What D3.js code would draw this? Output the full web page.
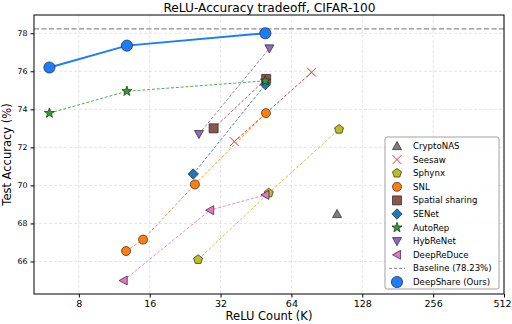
<!DOCTYPE html>
<html>
<head>
<meta charset="utf-8">
<script src="https://cdn.jsdelivr.net/npm/d3@7"></script>
<style>
  body { margin: 0; background: #fff; }
  svg { font-family: "DejaVu Sans", sans-serif; }
</style>
</head>
<body>
<div id="chart"></div>
<script>
// ---- data (ReLU count in K, test accuracy %) ----
const cryptoNAS  = [[100, 68.5]];
const seesaw     = [[36.6, 72.3], [78, 75.95]];
const sphynx     = [[25.7, 66.1], [51.3, 69.6], [102, 72.95]];
const snl        = [[12.7, 66.55], [15, 67.15], [24.9, 70.05], [49.9, 73.8]];
const spatial    = [[29.9, 73.0], [50, 75.6]];
const senet      = [[24.5, 70.6], [49.6, 75.3]];
const autorep    = [[6, 73.8], [12.8, 74.95], [49.6, 75.5]];
const hybrenet   = [[25.9, 72.7], [51.6, 77.2]];
const deepreduce = [[12.4, 65.0], [28.9, 68.7], [49.6, 69.5]];
const deepshare  = [[6, 76.2], [12.8, 77.35], [49.6, 78.0]];
const baseline   = 78.23;

const xTicks = [8, 16, 32, 64, 128, 256, 512];
const yTicks = [66, 68, 70, 72, 74, 76, 78];

const width = 512, height = 324;
const margin = {top: 15, right: 8, bottom: 30, left: 34};

// series config: name, data, colour, marker
const series = [
  {name: "CryptoNAS", data: cryptoNAS, color: "#7f7f7f", marker: "triUp"},
  {name: "Seesaw", data: seesaw, color: "#d62728", marker: "x"},
  {name: "Sphynx", data: sphynx, color: "#bcbd22", marker: "pentagon"},
  {name: "SNL", data: snl, color: "#ff7f0e", marker: "circle"},
  {name: "Spatial sharing", data: spatial, color: "#8c564b", marker: "square"},
  {name: "SENet", data: senet, color: "#1f77b4", marker: "diamond"},
  {name: "AutoRep", data: autorep, color: "#2ca02c", marker: "star"},
  {name: "HybReNet", data: hybrenet, color: "#9467bd", marker: "triDown"},
  {name: "DeepReDuce", data: deepreduce, color: "#e377c2", marker: "triLeft"}
];
const oursColor = "#1a7dff";

const svg = d3.select("#chart").append("svg")
  .attr("width", width).attr("height", height);

const x = d3.scaleLog().base(2)
  .domain([5.16, 512])
  .range([margin.left, width - margin.right]);
const y = d3.scaleLinear()
  .domain([64.29, 78.96])
  .range([height - margin.bottom, margin.top]);

// ---- grid ----
const grid = svg.append("g").attr("stroke", "#d9d9d9").attr("stroke-dasharray", "3,2").attr("stroke-width", 0.7);
grid.selectAll(".gx").data(xTicks).join("line")
  .attr("x1", d => x(d)).attr("x2", d => x(d))
  .attr("y1", margin.top).attr("y2", height - margin.bottom);
grid.selectAll(".gy").data(yTicks).join("line")
  .attr("x1", margin.left).attr("x2", width - margin.right)
  .attr("y1", d => y(d)).attr("y2", d => y(d));

// ---- marker path ----
function markerPath(type, s) {
  const r = s / 2;
  if (type === "circle") return d3.symbol(d3.symbolCircle, Math.PI * r * r)();
  if (type === "square") return `M${-r},${-r}H${r}V${r}H${-r}Z`;
  if (type === "diamond") { const q = r * 1.15; return `M0,${-q}L${q},0L0,${q}L${-q},0Z`; }
  if (type === "x") return `M${-r},${-r}L${r},${r}M${-r},${r}L${r},${-r}`;
  if (type === "star") {
    const pts = [];
    for (let i = 0; i < 10; i++) {
      const a = -Math.PI / 2 + i * Math.PI / 5, rr = i % 2 ? r * 0.42 : r * 1.05;
      pts.push([rr * Math.cos(a), rr * Math.sin(a)]);
    }
    return "M" + pts.join("L") + "Z";
  }
  if (type === "pentagon") {
    const pts = [];
    for (let i = 0; i < 5; i++) {
      const a = -Math.PI / 2 + i * 2 * Math.PI / 5;
      pts.push([r * Math.cos(a), r * Math.sin(a)]);
    }
    return "M" + pts.join("L") + "Z";
  }
  // triangles
  const t = [[0, -r], [r, r * 0.8], [-r, r * 0.8]];
  const rot = {triUp: 0, triDown: 180, triLeft: -90}[type];
  const a = rot * Math.PI / 180;
  const p = t.map(([px, py]) => [px * Math.cos(a) - py * Math.sin(a), px * Math.sin(a) + py * Math.cos(a)]);
  return "M" + p.join("L") + "Z";
}

function drawMarker(g, type, color, s) {
  const p = g.append("path").attr("d", markerPath(type, s));
  if (type === "x") p.attr("fill", "none").attr("stroke", color).attr("stroke-width", 0.9);
  else p.attr("fill", color).attr("stroke", "#222").attr("stroke-width", 0.7);
  return p;
}

const markerSize = {circle: 9, square: 9, diamond: 9, x: 9, star: 10, pentagon: 9.5, triUp: 9, triDown: 9, triLeft: 9};

const line = d3.line().x(d => x(d[0])).y(d => y(d[1]));

// ---- series ----
series.forEach(s => {
  const g = svg.append("g");
  if (s.data.length > 1) {
    g.append("path").datum(s.data).attr("d", line)
      .attr("fill", "none").attr("stroke", s.color).attr("stroke-width", 1)
      .attr("stroke-dasharray", "3,1.8").attr("opacity", 0.85);
  }
  s.data.forEach(d => {
    const m = g.append("g").attr("transform", `translate(${x(d[0])},${y(d[1])})`);
    drawMarker(m, s.marker, s.color, markerSize[s.marker]);
  });
});

// baseline
svg.append("line")
  .attr("x1", margin.left).attr("x2", width - margin.right)
  .attr("y1", y(baseline)).attr("y2", y(baseline))
  .attr("stroke", "#8c8c8c").attr("stroke-width", 1.4).attr("stroke-dasharray", "5,2.5");

// DeepShare (ours)
const gOurs = svg.append("g");
gOurs.append("path").datum(deepshare).attr("d", line)
  .attr("fill", "none").attr("stroke", oursColor).attr("stroke-width", 2);
gOurs.selectAll("circle").data(deepshare).join("circle")
  .attr("cx", d => x(d[0])).attr("cy", d => y(d[1])).attr("r", 5.6)
  .attr("fill", oursColor).attr("stroke", "#222").attr("stroke-width", 0.7);

// ---- frame & axes ----
svg.append("rect")
  .attr("x", margin.left).attr("y", margin.top)
  .attr("width", width - margin.left - margin.right)
  .attr("height", height - margin.top - margin.bottom)
  .attr("fill", "none").attr("stroke", "#000").attr("stroke-width", 1);

const xAxis = svg.append("g")
  .attr("transform", `translate(0,${height - margin.bottom})`)
  .call(d3.axisBottom(x).tickValues(xTicks).tickFormat(d3.format("d")).tickSize(3.5).tickPadding(3));
const yAxis = svg.append("g")
  .attr("transform", `translate(${margin.left},0)`)
  .call(d3.axisLeft(y).tickValues(yTicks).tickFormat(d3.format("d")).tickSize(3.5).tickPadding(3));
[xAxis, yAxis].forEach(a => {
  a.select(".domain").remove();
  a.selectAll("text").attr("fill", "#000").attr("font-family", "DejaVu Sans");
  a.selectAll("line").attr("stroke", "#000");
});
xAxis.selectAll("text").attr("font-size", 9.5);
// last label sits at the very edge; nudge it so it stays inside
xAxis.selectAll("text").filter(d => d === 512).attr("dx", -2);
yAxis.selectAll("text").attr("font-size", 7.8);

// ---- labels ----
svg.append("text")
  .attr("x", 269.5).attr("y", 12)
  .attr("text-anchor", "middle").attr("font-size", 12.2)
  .text("ReLU-Accuracy tradeoff, CIFAR-100");
svg.append("text")
  .attr("x", (margin.left + width - margin.right) / 2).attr("y", 320)
  .attr("text-anchor", "middle").attr("font-size", 11.5)
  .text("ReLU Count (K)");
svg.append("text")
  .attr("transform", `translate(11,${(margin.top + height - margin.bottom) / 2}) rotate(-90)`)
  .attr("text-anchor", "middle").attr("font-size", 11.5)
  .text("Test Accuracy (%)");

// ---- legend ----
const lg = svg.append("g").attr("transform", "translate(385,137)");
lg.append("rect").attr("width", 114).attr("height", 152).attr("rx", 2)
  .attr("fill", "#fff").attr("fill-opacity", 0.85).attr("stroke", "#888").attr("stroke-width", 0.8);
const items = series.map(s => ({name: s.name, color: s.color, marker: s.marker}))
  .concat([{name: "Baseline (78.23%)", color: "#8c8c8c", marker: "dash"},
           {name: "DeepShare (Ours)", color: oursColor, marker: "big"}]);
items.forEach((it, i) => {
  const row = lg.append("g").attr("transform", `translate(12,${9 + i * 13.6})`);
  if (it.marker === "dash") {
    row.append("line").attr("x1", -8).attr("x2", 8).attr("stroke", it.color)
      .attr("stroke-width", 1).attr("stroke-dasharray", "3,2");
  } else if (it.marker === "big") {
    row.append("circle").attr("r", 5.6).attr("fill", it.color).attr("stroke", "#222").attr("stroke-width", 0.7);
  } else {
    drawMarker(row, it.marker, it.color, markerSize[it.marker]);
  }
  row.append("text").attr("x", 16).attr("dy", "0.35em").attr("font-size", 8.6).text(it.name);
});
</script>
</body>
</html>
